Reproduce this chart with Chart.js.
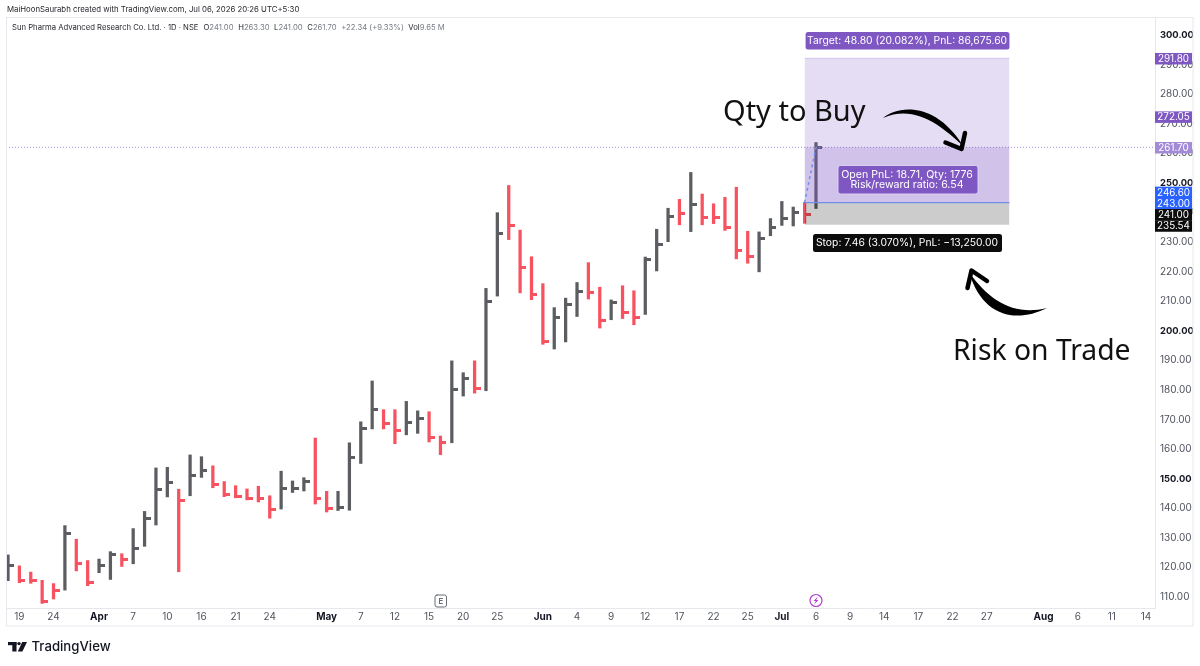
<!DOCTYPE html>
<html><head><meta charset="utf-8">
<style>html,body{margin:0;padding:0;background:#fff}#wrap{width:1200px;height:666px;position:relative}</style>
<script src="https://cdn.jsdelivr.net/npm/chart.js@4"></script></head>
<body><div id="wrap"><canvas id="c" width="1200" height="666"></canvas></div>
<script>
const highs=[123.9,120.2,118.1,115.3,114.2,133.8,129.2,122.0,122.5,125.0,124.3,132.8,138.6,153.3,153.5,146.1,157.7,157.1,154.0,148.7,147.3,146.2,147.1,143.9,152.2,148.9,150.0,163.4,145.4,145.4,161.8,168.9,182.7,173.0,173.0,175.8,172.6,172.3,164.1,189.5,185.5,189.5,214.0,239.6,248.8,233.7,224.7,215.6,207.5,210.7,216.0,222.7,214.4,210.1,214.9,213.2,224.6,234.0,241.1,244.1,253.2,245.9,242.6,244.8,248.2,233.3,233.1,237.6,243.4,241.5,243.1,263.3];
const lows=[115.2,114.5,114.3,107.5,109.0,112.0,118.5,113.5,117.9,115.6,120.0,120.9,126.8,134.0,143.5,118.2,143.9,150.1,146.6,143.6,143.2,142.5,141.8,136.3,139.4,145.0,145.5,141.1,138.4,138.9,139.0,154.8,166.5,166.5,161.5,164.5,165.0,162.1,157.8,161.8,177.6,178.6,179.4,211.4,230.5,212.5,210.2,195.1,193.5,195.9,204.5,210.4,200.6,203.4,203.8,201.7,205.2,219.9,229.8,235.5,233.2,235.5,235.9,233.6,224.0,222.5,219.6,231.8,235.3,235.1,236.0,241.0];
const closes=[120.3,115.1,115.1,108.3,111.8,131.2,120.9,114.6,120.4,124.1,122.4,126.1,136.3,146.1,148.4,142.3,150.6,152.4,147.8,144.2,143.6,143.0,142.8,139.3,146.5,146.5,148.6,142.9,139.5,139.8,156.7,166.5,173.1,168.3,166.1,168.6,169.9,163.5,161.8,179.8,183.4,180.1,209.5,232.7,235.4,221.2,211.9,196.2,204.1,208.5,212.9,212.7,203.3,209.3,205.8,204.0,223.7,228.8,238.2,239.4,242.3,237.8,237.9,234.5,226.9,224.7,231.0,234.5,237.7,239.6,239.1,261.7];
const downBars=[1,2,3,4,6,7,10,15,18,19,20,21,22,23,27,28,33,34,37,38,41,44,45,46,47,51,52,54,55,59,61,62,63,64,65,70];
const xTickIndex=[1,4,8,11,14,17,20,23,28,31,34,37,40,43,47,50,53,56,59,62,65,68,71,74,77,80,83,86,91,94,97,100];
const xTickLabels=['19','24','Apr','7','10','16','21','24','May','7','12','15','20','25','Jun','4','9','12','17','22','25','Jul','6','9','14','17','22','27','Aug','6','11','14'];
const monthLabels=['Apr','May','Jun','Jul','Aug'];
const yTicks=[110,120,130,140,150,160,170,180,190,200,210,220,230,240,250,260,270,280,290,300];
const boldY=[150,200,250,300];
const target=291.8,entry=243,stop=235.54,last=261.7,lastIdx=71,boxEnd=88;
const priceTags=[[291.8,'291.80','#7e57c2'],[272.05,'272.05','#7e57c2'],[261.7,'261.70','#a48bd8'],[246.6,'246.60','#2962ff'],[243,'243.00','#2962ff'],[241,'241.00','#0c0c0c'],[235.54,'235.54','#0c0c0c']];

const GREY='#5b5d61',RED='#f7525f',FONT='Inter, "Noto Sans", sans-serif';
const isDown=i=>downBars.includes(i);
function tickImg(col){const k=document.createElement('canvas');k.width=12;k.height=3;const g=k.getContext('2d');g.fillStyle=col;g.fillRect(6,0,6,3);return k;}
const imgG=tickImg(GREY),imgR=tickImg(RED);
const XMIN=-0.176,XMAX=100.79,YMIN=105.95,YMAX=305.75;

function pill(g,x,y,w,h,bg,border){g.beginPath();g.roundRect(x,y,w,h,2.5);g.fillStyle=bg;g.fill();if(border){g.strokeStyle=border;g.lineWidth=1;g.stroke();}}
function txt(g,s,x,y,font,col,align,base){g.font=font;g.fillStyle=col;g.textAlign=align||'left';g.textBaseline=base||'middle';g.fillText(s,x,y);}

const overlay={id:'overlay',afterDraw(ch){
  const g=ch.ctx,X=ch.scales.x,Y=ch.scales.y;g.save();
  g.strokeStyle='#e6e8ee';g.lineWidth=1;g.strokeRect(6.5,17.5,1186.5,608.5);
  txt(g,'MaiHoonSaurabh created with TradingView.com, Jul 06, 2026 20:26 UTC+5:30',7,10,'7.8px '+FONT,'#26282e');
  let px=12;const seg=[['Sun Pharma Advanced Research Co. Ltd. · 1D · NSE','#26282e',5],['O','#26282e',0],['241.00','#787b86',4.6],['H','#26282e',0],['263.30','#787b86',4.6],['L','#26282e',0],['241.00','#787b86',4.6],['C','#26282e',0],['261.70','#787b86',4.6],['+22.34 (+9.33%)','#787b86',4.6],['Vol','#26282e',0],['9.65 M','#787b86',0]];
  for(const [s,c,gap] of seg){txt(g,s,px,28,'7.7px '+FONT,c);px+=g.measureText(s).width+gap;}
  let prev=-99;
  for(const [v,s,c] of priceTags){let y=Y.getPixelForValue(v)+.4;if(y<prev+11.2)y=prev+11.2;prev=y;g.fillStyle=c;g.fillRect(1155,y-5.7,37,11.5);txt(g,s,1173.5,y+.3,'9.9px '+FONT,'#fff','center');}
  const xa=X.getPixelForValue(70),xb=X.getPixelForValue(boxEnd),xm=(xa+xb)/2;
  pill(g,xa+1,32,xb-xa-1,17.5,'#7e57c2');
  txt(g,'Target: 48.80 (20.082%), PnL: 86,675.60',xm,41,'10.35px '+FONT,'#fff','center');
  pill(g,838,165.5,140,28.5,'#7e57c2','#d9cff0');
  txt(g,'Open PnL: 18.71, Qty: 1776',xm,174.5,'10.6px '+FONT,'#fff','center');
  txt(g,'Risk/reward ratio: 6.54',xm,185,'10.6px '+FONT,'#fff','center');
  pill(g,813,234,189,18,'#0c0c0c');
  txt(g,'Stop: 7.46 (3.070%), PnL: −13,250.00',xm,243.3,'10.35px '+FONT,'#fff','center');
  txt(g,'Qty to Buy',723,120.5,'29px "Noto Sans", sans-serif','#111','left','alphabetic');
  txt(g,'Risk on Trade',953,360,'28.3px "Noto Sans", sans-serif','#111','left','alphabetic');
  g.fillStyle='#000';g.strokeStyle='#000';g.lineCap='round';g.lineJoin='round';
  g.beginPath();g.moveTo(883,118);g.bezierCurveTo(897,106,935,100,964,147);g.bezierCurveTo(942,126,915,104,883,118);g.fill();
  g.lineWidth=4.5;g.beginPath();g.moveTo(965,133);g.lineTo(961.5,149);g.lineTo(945.5,142.5);g.stroke();
  g.beginPath();g.moveTo(1047,308);g.bezierCurveTo(1015,324,982,316,969,272);g.bezierCurveTo(990,302,1015,316,1047,308);g.fill();
  g.lineWidth=4.5;g.beginPath();g.moveTo(987,281);g.lineTo(971.5,270.5);g.lineTo(967.5,288);g.stroke();
  g.strokeStyle='#6a6d78';g.lineWidth=1;g.beginPath();g.roundRect(435,595,11.5,12,2);g.stroke();
  txt(g,'E',440.8,601.3,'8px '+FONT,'#3a3d45','center');
  const bx=X.getPixelForValue(lastIdx);
  g.strokeStyle='#b23fd0';g.lineWidth=1.2;g.beginPath();g.arc(bx,600.5,6,0,Math.PI*2);g.stroke();
  g.fillStyle='#b23fd0';g.beginPath();g.moveTo(bx+1.8,596.5);g.lineTo(bx-2.4,601);g.lineTo(bx-.2,601);g.lineTo(bx-1.8,604.5);g.lineTo(bx+2.4,600);g.lineTo(bx+.2,600);g.closePath();g.fill();
  g.fillStyle='#131722';g.fillRect(8,642,8.5,3.2);g.fillRect(12.3,642,4.2,9.5);
  g.beginPath();g.arc(19,643.6,1.7,0,Math.PI*2);g.fill();
  g.beginPath();g.moveTo(22.2,642);g.lineTo(27,642);g.lineTo(22.4,651.5);g.lineTo(17.8,651.5);g.closePath();g.fill();
  txt(g,'TradingView',31.5,647,'500 13.2px '+FONT,'#131722');
  g.restore();
}};
const flat=(v)=>[{x:70,y:v},{x:boxEnd,y:v}];
new Chart(document.getElementById('c'),{
 type:'bar',
 plugins:[overlay],
 data:{datasets:[
  {type:'line',order:1,data:flat(target),borderColor:'rgba(126,87,194,.25)',borderWidth:1,pointRadius:0,fill:{value:entry},backgroundColor:'rgba(126,87,194,.2)'},
  {type:'line',order:1,data:flat(last),borderWidth:0,pointRadius:0,fill:{value:entry},backgroundColor:'rgba(126,87,194,.2)'},
  {type:'line',order:1,data:flat(stop),borderWidth:0,pointRadius:0,fill:{value:entry},backgroundColor:'rgba(0,0,0,.2)'},
  {type:'line',order:0,data:flat(entry),borderColor:'#6f8fe8',borderWidth:1.3,pointRadius:0,fill:false},
  {type:'line',order:0,data:[{x:70,y:entry},{x:lastIdx,y:last}],borderColor:'#6f8ff0',borderWidth:1.5,borderDash:[3,3],pointRadius:0,fill:false},
  {type:'line',order:2,data:[{x:XMIN,y:last},{x:XMAX,y:last}],borderColor:'#a88fe0',borderWidth:1,borderDash:[1,2],pointRadius:0,fill:false},
  {type:'scatter',order:3,data:closes.map((c,i)=>({x:i,y:c})),pointRadius:5,pointHoverRadius:5,showLine:false,
   pointStyle:c=>isDown(c.dataIndex)?imgR:imgG},
  {type:'bar',order:4,data:highs.map((h,i)=>({x:i,y:[lows[i],h]})),barThickness:2.6,borderWidth:0,
   backgroundColor:highs.map((h,i)=>isDown(i)?RED:GREY)}
 ]},
 options:{responsive:false,animation:false,devicePixelRatio:1,
  layout:{padding:{left:6,top:17,right:7,bottom:40}},
  plugins:{legend:{display:false},tooltip:{enabled:false}},
  scales:{
   x:{type:'linear',min:XMIN,max:XMAX,offset:false,
    grid:{display:false,drawTicks:false},border:{display:true,color:'#e6e8ee'},
    afterBuildTicks:s=>{s.ticks=xTickIndex.map(v=>({value:v}));},
    afterFit:s=>{s.height=18;},
    ticks:{autoSkip:false,maxRotation:0,padding:3,
     callback:v=>xTickLabels[xTickIndex.indexOf(v)],
     font:c=>{const l=xTickLabels[xTickIndex.indexOf(c.tick&&c.tick.value)];return {family:FONT,size:10,weight:monthLabels.includes(l)?'700':'400'};},
     color:c=>{const l=xTickLabels[xTickIndex.indexOf(c.tick&&c.tick.value)];return monthLabels.includes(l)?'#131722':'#50535e';}}},
   y:{type:'linear',position:'right',min:YMIN,max:YMAX,
    grid:{display:false,drawTicks:false},border:{display:true,color:'#e6e8ee'},
    afterBuildTicks:s=>{s.ticks=yTicks.map(v=>({value:v}));},
    afterFit:s=>{s.width=38;},
    ticks:{autoSkip:false,padding:5,labelOffset:1,
     callback:v=>v.toFixed(2),
     font:c=>{const b=boldY.includes(c.tick&&c.tick.value);return {family:FONT,size:b?9.4:10,weight:b?'700':'400'};},
     color:c=>boldY.includes(c.tick&&c.tick.value)?'#131722':'#50535e'}}
  }}
});
</script></body></html>
